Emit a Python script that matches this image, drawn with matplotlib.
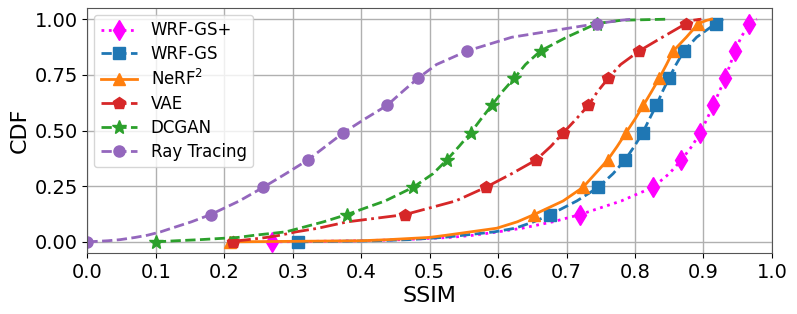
import matplotlib
matplotlib.use("Agg")
import matplotlib.pyplot as plt

# Common CDF levels (y values)
cdf = [0.0, 0.005, 0.01, 0.02, 0.03, 0.045, 0.06125, 0.09, 0.1225, 0.18375,
       0.245, 0.30625, 0.3675, 0.42875, 0.49, 0.55125, 0.6125, 0.67375,
       0.735, 0.79625, 0.8575, 0.91875, 0.98, 0.995, 1.0]

# SSIM value of each method at those CDF levels
wrfgs_plus = [0.270, 0.40, 0.46, 0.53, 0.565, 0.60, 0.635, 0.68, 0.7197, 0.78,
              0.8263, 0.85, 0.8677, 0.883, 0.8954, 0.905, 0.9144, 0.923,
              0.9319, 0.939, 0.9461, 0.955, 0.967, 0.974, 0.978]
wrfgs = [0.308, 0.42, 0.47, 0.52, 0.55, 0.595, 0.625, 0.652, 0.6763, 0.715,
         0.7464, 0.768, 0.7854, 0.799, 0.8113, 0.821, 0.8311, 0.840,
         0.8497, 0.860, 0.8716, 0.89, 0.9179, 0.924, 0.929]
nerf2 = [0.208, 0.40, 0.44, 0.50, 0.525, 0.56, 0.598, 0.628, 0.6525, 0.695,
         0.724, 0.742, 0.760, 0.774, 0.7869, 0.80, 0.8121, 0.824,
         0.8355, 0.846, 0.856, 0.875, 0.8925, 0.905, 0.912]
vae = [0.213, 0.22, 0.235, 0.262, 0.282, 0.305, 0.337, 0.38, 0.464, 0.538,
       0.582, 0.62, 0.6554, 0.677, 0.6953, 0.714, 0.7318, 0.745,
       0.761, 0.779, 0.8063, 0.84, 0.8745, 0.885, 0.897]
dcgan = [0.100, 0.13, 0.165, 0.22, 0.245, 0.29, 0.31, 0.345, 0.379, 0.435,
         0.476, 0.505, 0.525, 0.543, 0.56, 0.575, 0.5906, 0.606,
         0.6237, 0.64, 0.662, 0.70, 0.744, 0.78, 0.85]
ray_tracing = [0.0, 0.03, 0.048, 0.07, 0.088, 0.107, 0.123, 0.152, 0.180, 0.222,
               0.257, 0.290, 0.322, 0.348, 0.374, 0.405, 0.4377, 0.46,
               0.483, 0.51, 0.555, 0.62, 0.745, 0.78, 0.797]

labels = ["WRF-GS+", "WRF-GS", "NeRF$^2$", "VAE", "DCGAN", "Ray Tracing"]
xticks = [0.0, 0.1, 0.2, 0.3, 0.4, 0.5, 0.6, 0.7, 0.8, 0.9, 1.0]
yticks = [0.0, 0.25, 0.5, 0.75, 1.0]

series = [wrfgs_plus, wrfgs, nerf2, vae, dcgan, ray_tracing]
colors = ["#ff00ff", "#1f77b4", "#ff7f0e", "#d62728", "#2ca02c", "#9467bd"]
styles = [":", "--", "-", "-.", "--", "--"]
markers = ["d", "s", "^", "p", "*", "o"]
msizes = [10, 8, 9, 9, 10, 8]
mark_idx = [0, 8, 10, 12, 14, 16, 18, 20, 22]

fig = plt.figure(figsize=(7.97, 3.14), dpi=100)
ax = fig.add_axes([87.4 / 797, 61 / 314, 684.5 / 797, 245 / 314])

for vals, lab, c, ls, m, ms in zip(series, labels, colors, styles, markers, msizes):
    ax.plot(vals, cdf, color=c, linestyle=ls, linewidth=2.0, marker=m,
            markersize=ms, markevery=mark_idx, label=lab)

ax.set_xlim(0, 1.0)
ax.set_ylim(-0.05, 1.05)
ax.set_xticks(xticks)
ax.set_yticks(yticks)
ax.set_xticklabels([f"{t:.1f}" for t in xticks])
ax.set_yticklabels([f"{t:.2f}" for t in yticks])
ax.tick_params(labelsize=14)
ax.set_xlabel("SSIM", fontsize=16, labelpad=3)
ax.set_ylabel("CDF", fontsize=16, labelpad=3)
ax.grid(True, color="#b0b0b0", linewidth=1.0)
for s in ax.spines.values():
    s.set_color("#555555")
ax.legend(loc="upper left", fontsize=12, handlelength=2.2, labelspacing=0.35,
          borderaxespad=0.4)

fig.savefig("out.png", dpi=100)
